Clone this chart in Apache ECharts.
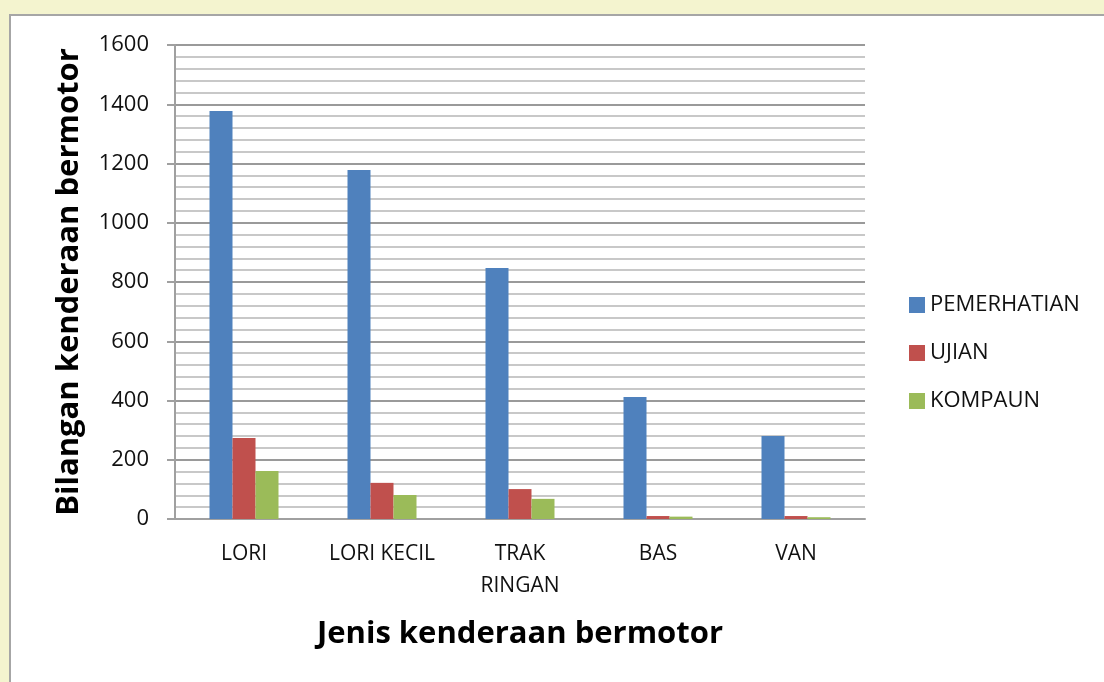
<!DOCTYPE html>
<html>
<head>
<meta charset="utf-8">
<script src="https://cdn.jsdelivr.net/npm/echarts@6/dist/echarts.min.js"></script>
<style>
    html, body { margin: 0; padding: 0; background: #f4f4cf; }
    #frame {
        position: absolute; left: 9px; top: 14px; width: 1110px; height: 680px;
        background: #fff; border: 2px solid #a6a6a6; box-sizing: border-box;
    }
    #chart { position: absolute; left: 0; top: 0; width: 1104px; height: 682px; }
</style>
</head>
<body>
<div id="frame"></div>
<div id="chart"></div>
<script>
// jenis kenderaan
var categories = ['LORI', 'LORI KECIL', 'TRAK\nRINGAN', 'BAS', 'VAN'];
var pemerhatian = [1377, 1178, 847, 412, 280];
var ujian = [273, 122, 101, 10, 10];
var kompaun = [162, 81, 68, 8, 6];

var chart = echarts.init(document.getElementById('chart'));
var font = 'Open Sans';
option = {
    textStyle: { fontFamily: font },
    grid: {
        left: 175,
        right: 239,
        top: 45,
        bottom: 163
    },
    legend: {
        orient: 'vertical',
        left: 904,
        top: 289,
        itemWidth: 16,
        itemHeight: 16,
        itemGap: 26,
        icon: 'rect',
        textStyle: { fontSize: 22, color: '#111', fontFamily: font },
        data: ['PEMERHATIAN', 'UJIAN', 'KOMPAUN']
    },
    xAxis: {
        type: 'category',
        data: categories,
        name: 'Jenis kenderaan bermotor',
        nameLocation: 'middle',
        nameGap: 100,
        nameTextStyle: { fontSize: 31, fontWeight: 'bold', color: '#000', fontFamily: font },
        axisLine: { lineStyle: { color: '#a0a0a0', width: 2 } },
        axisTick: { show: false },
        axisLabel: { interval: 0, fontSize: 21, color: '#111', margin: 19, lineHeight: 32 }
    },
    yAxis: [{
        // garis halus setiap 40
        type: 'value',
        min: 0,
        max: 1600,
        interval: 40,
        axisLine: { show: false },
        axisTick: { show: false },
        axisLabel: { show: false },
        splitLine: { lineStyle: { color: '#c8c8c8', width: 2 } }
    }, {
        type: 'value',
        position: 'left',
        min: 0,
        max: 1600,
        interval: 200,
        name: 'Bilangan kenderaan bermotor',
        nameLocation: 'middle',
        nameGap: 90,
        nameTextStyle: { fontSize: 31, fontWeight: 'bold', color: '#000', fontFamily: font },
        axisLine: { show: true, lineStyle: { color: '#a0a0a0', width: 2 } },
        axisTick: { show: true, length: 8, lineStyle: { color: '#a0a0a0', width: 2 } },
        axisLabel: {
            fontSize: 22, color: '#111', margin: 26,
            formatter: function (v) { return String(v); }
        },
        splitLine: { lineStyle: { color: '#9a9a9a', width: 2 } }
    }],
    series: [
        {
            name: 'PEMERHATIAN',
            type: 'bar',
            barGap: 0,
            barCategoryGap: '50%',
            itemStyle: { color: '#4f81bd' },
            data: pemerhatian
        },
        {
            name: 'UJIAN',
            type: 'bar',
            itemStyle: { color: '#c0504d' },
            data: ujian
        },
        {
            name: 'KOMPAUN',
            type: 'bar',
            itemStyle: { color: '#9bbb59' },
            data: kompaun
        }
    ]
};
chart.setOption(option);
</script>
</body>
</html>
